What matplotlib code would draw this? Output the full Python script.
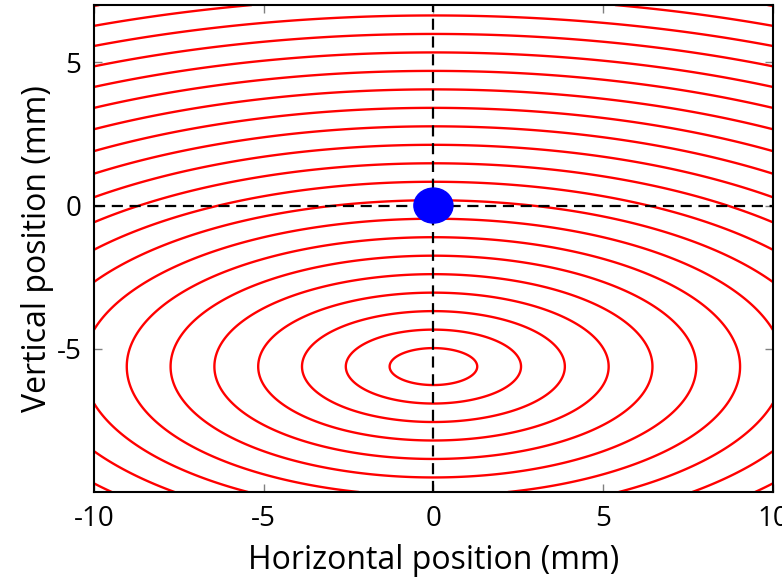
import matplotlib.pyplot as plt
import numpy as np
from matplotlib.patches import Ellipse

plt.rcParams['font.family'] = ['Open Sans', 'DejaVu Sans']
plt.rcParams['axes.unicode_minus'] = False

# beam centre and contour settings (mm)
centre_x = 0.0
centre_y = -5.62
x_scale = 2.0          # horizontal stretch of the ellipses
step = 0.645           # radial distance between neighbouring contours
n_levels = 22
levels = step * np.arange(1, n_levels + 1)

# reference point
point_x = 0.0
point_y = 0.0

xticks = [-10, -5, 0, 5, 10]
yticks = [-5, 0, 5]

x = np.linspace(-10, 10, 801)
y = np.linspace(-10, 7, 681)
X, Y = np.meshgrid(x, y)
R = np.sqrt(((X - centre_x) / x_scale) ** 2 + (Y - centre_y) ** 2)

fig = plt.figure(figsize=(7.82, 5.83), dpi=100)
ax = fig.add_axes([0.120, 0.156, 0.8685, 0.8354])

ax.contour(X, Y, R, levels=levels, colors='red', linewidths=1.7)

ax.axhline(0, color='black', lw=1.6, ls=(0, (5, 3)), zorder=3)
ax.axvline(0, color='black', lw=1.6, ls=(0, (5, 3)), zorder=3)

ax.add_patch(Ellipse((point_x, point_y), 1.15, 1.22, color='blue', zorder=4))

ax.set_xlim(-10, 10)
ax.set_ylim(-10, 7)
ax.set_xticks(xticks)
ax.set_yticks(yticks)
ax.tick_params(direction='in', length=6, width=1, color='gray',
               top=True, right=True, labelsize=20, pad=9)
for s in ax.spines.values():
    s.set_linewidth(1.5)

ax.set_xlabel('Horizontal position (mm)', fontsize=23, labelpad=8)
ax.set_ylabel('Vertical position (mm)', fontsize=23, labelpad=2)

fig.savefig('out.png', dpi=100)
